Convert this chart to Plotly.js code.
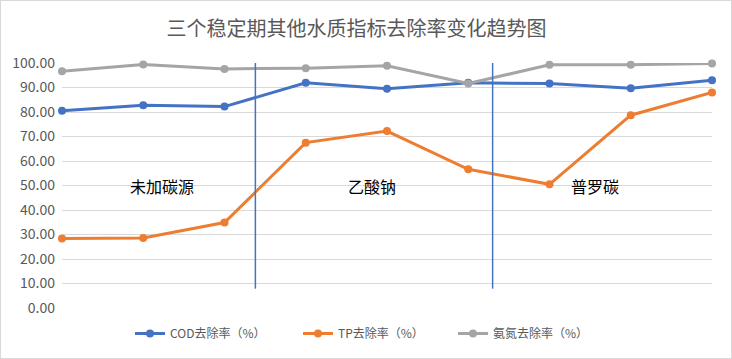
<!DOCTYPE html>
<html>
<head>
<meta charset="utf-8">
<script src="https://cdn.plot.ly/plotly-3.0.1.min.js"></script>
<style>
  html, body { margin: 0; padding: 0; background: #fff; }
  #chart { position: absolute; left: 0; top: 0; width: 732px; height: 359px; }
  #frame { position: absolute; left: 0; top: 0; width: 732px; height: 359px; box-sizing: border-box; border: 1px solid #D9D9D9; pointer-events: none; }
</style>
</head>
<body>
<div id="chart"></div>
<div id="frame"></div>
<script>
// ---- data ----
const samples = [1, 2, 3, 4, 5, 6, 7, 8, 9];
const codRemoval = [80.5, 82.8, 82.2, 91.9, 89.5, 91.9, 91.6, 89.7, 93.0];
const tpRemoval  = [28.4, 28.6, 34.9, 67.5, 72.2, 56.6, 50.5, 78.7, 88.0];
const nh3Removal = [96.6, 99.4, 97.6, 97.9, 98.9, 91.6, 99.3, 99.3, 99.8];
const seriesNames = ['COD去除率（%）', 'TP去除率（%）', '氨氮去除率（%）'];
const phaseLabels = ['未加碳源', '乙酸钠', '普罗碳'];
const phaseLabelPos = [2.23, 4.81, 7.56];   // category position (1-based)
const phaseLabelY = 49.6;
const dividerPos = [3.38, 6.30];            // category position (1-based)
const dividerRange = [7.9, 100.4];
const chartTitle = '三个稳定期其他水质指标去除率变化趋势图';

const colors = ['#4472C4', '#ED7D31', '#A5A5A5'];
const cjk = '"Noto Sans CJK SC", "Noto Sans", sans-serif';
const legendIds = ['legend', 'legend2', 'legend3'];
const legendX = [0.1046, 0.3631, 0.6015];

const seriesData = [codRemoval, tpRemoval, nh3Removal];
const traces = seriesData.map((vals, i) => ({
  x: samples,
  y: vals,
  name: seriesNames[i],
  type: 'scatter',
  mode: 'lines+markers',
  line: { color: colors[i], width: 3 },
  marker: { color: colors[i], size: 8 },
  cliponaxis: false,
  legend: legendIds[i]
}));

const shapes = dividerPos.map(p => ({
  type: 'line', xref: 'x', yref: 'y',
  x0: p, x1: p, y0: dividerRange[0], y1: dividerRange[1],
  line: { color: '#4472C4', width: 1.5 }
}));

const annotations = phaseLabels.map((t, i) => ({
  text: t, x: phaseLabelPos[i], y: phaseLabelY, xref: 'x', yref: 'y',
  showarrow: false, font: { family: cjk, size: 16, color: '#000000' }
}));

const layout = {
  width: 732, height: 359,
  margin: { l: 62, r: 20, t: 63, b: 51, autoexpand: false },
  paper_bgcolor: '#ffffff', plot_bgcolor: '#ffffff',
  font: { family: cjk, color: '#595959' },
  title: { text: chartTitle, x: 0.487, xanchor: 'center', y: 0.92, yanchor: 'middle',
           font: { family: cjk, size: 20, color: '#595959' } },
  xaxis: { range: [1, 9], showticklabels: false, showgrid: false, zeroline: false,
           showline: false, ticks: '', fixedrange: true },
  yaxis: { range: [0, 100], dtick: 10, tickformat: '.2f', showgrid: true,
           gridcolor: '#D9D9D9', gridwidth: 1, zeroline: false, showline: false,
           ticks: '', ticklen: 0, tickfont: { family: cjk, size: 14, color: '#595959' },
           ticklabelstandoff: 6, automargin: false },
  showlegend: true,
  shapes: shapes,
  annotations: annotations
};
legendIds.forEach((id, i) => {
  layout[id] = { orientation: 'h', x: legendX[i], xanchor: 'left', y: -0.045, yanchor: 'top',
                 font: { family: cjk, size: 12, color: '#595959' }, itemwidth: 30,
                 bgcolor: 'rgba(0,0,0,0)' };
});

Plotly.newPlot('chart', traces, layout, { displayModeBar: false, staticPlot: true });
</script>
</body>
</html>
